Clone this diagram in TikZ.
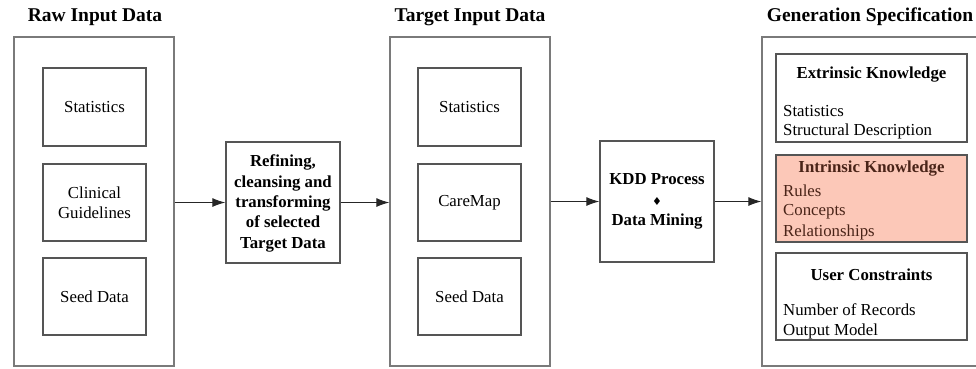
\documentclass[tikz,border=0pt]{standalone}
\usepackage{fontspec}
\setmainfont{Liberation Serif}
\newfontfamily\symfont{DejaVu Sans}
\usepackage{xcolor}
\usetikzlibrary{arrows.meta,positioning}

\definecolor{panelgray}{HTML}{7A7A7A}
\definecolor{boxgray}{HTML}{555555}
\definecolor{salmon}{HTML}{FCC8B8}
\definecolor{brown}{HTML}{4A2418}

\tikzset{
  panel/.style={draw=panelgray,line width=1.3pt,inner sep=0pt,minimum width=160pt,minimum height=329pt},
  inbox/.style={draw=boxgray,line width=1.3pt,inner sep=0pt,minimum width=103pt,minimum height=77pt,
    font=\fontsize{16.8}{20.3}\selectfont,align=center},
  procbox/.style={draw=boxgray,line width=1.3pt,inner sep=0pt,minimum width=114pt,minimum height=121pt,
    font=\bfseries\fontsize{16.8}{20.3}\selectfont,align=center},
  specbox/.style={draw=boxgray,line width=1.3pt,inner sep=0pt,minimum width=191pt,minimum height=87pt},
  title/.style={font=\bfseries\fontsize{19.5}{22}\selectfont},
  head/.style={font=\bfseries\fontsize{16.8}{20}\selectfont},
  item/.style={anchor=west,font=\fontsize{16.8}{20}\selectfont,inner sep=0pt},
  flow/.style={-{Latex[length=13pt,width=9pt]},line width=1.1pt,draw=black!85}
}

\begin{document}
\begin{tikzpicture}[x=1pt,y=-1pt]
\useasboundingbox (0,0) rectangle (976,368);

% Raw input data
\node[title] (rawtitle) at (95,17) {Raw Input Data};
\node[panel] (raw) at (94,201.5) {};
\node[inbox,minimum height=78pt] (rawstat) at (94.5,107) {Statistics};
\node[inbox] (rawclin) at (94.5,202.5) {Clinical\\Guidelines};
\node[inbox] (rawseed) at (94.5,296.5) {Seed Data};

% Refining step
\node[procbox,text depth=2pt] (refine) at (283,202.5) {Refining,\\cleansing and\\transforming\\of selected\\Target Data};

% Target input data
\node[title] (tgttitle) at (470,17) {Target Input Data};
\node[panel] (tgt) at (470,201.5) {};
\node[inbox,minimum height=78pt] (tgtstat) at (469.5,107) {Statistics};
\node[inbox] (tgtcare) at (469.5,202.5) {CareMap};
\node[inbox] (tgtseed) at (469.5,296.5) {Seed Data};

% KDD step
\node[procbox] (kdd) at (657,201.5) {KDD Process\\{\symfont\fontsize{11}{11}\selectfont ♦}\\Data Mining};

% Generation specification
\node[title] (gentitle) at (870,17) {Generation Specification};
\node[panel,minimum width=240pt] (gen) at (882,201.5) {};
\node[specbox,minimum height=88pt] (extr) at (871.5,98) {};
\node[specbox,fill=salmon] (intr) at (871.5,198.5) {};
\node[specbox] (user) at (871.5,296.5) {};

\node[head] (extrhead) at (871.5,75) {Extrinsic Knowledge};
\node[item] (extr1) at (783,111) {Statistics};
\node[item] (extr2) at (783,131) {Structural Description};

\node[head,text=brown] (intrhead) at (871.5,169) {Intrinsic Knowledge};
\node[item,text=brown] (intr1) at (783,191) {Rules};
\node[item,text=brown] (intr2) at (783,212) {Concepts};
\node[item,text=brown] (intr3) at (783,232) {Relationships};

\node[head] (userhead) at (871.5,275) {User Constraints};
\node[item] (user1) at (783,310) {Number of Records};
\node[item] (user2) at (783,331) {Output Model};

% Connections
\draw[flow] (raw.east |- refine.west) -- (refine.west);
\draw[flow] (refine.east) -- (refine.east -| tgt.west);
\draw[flow] (tgt.east |- kdd.west) -- (kdd.west);
\draw[flow] (kdd.east) -- (kdd.east -| gen.west);
\end{tikzpicture}
\end{document}
